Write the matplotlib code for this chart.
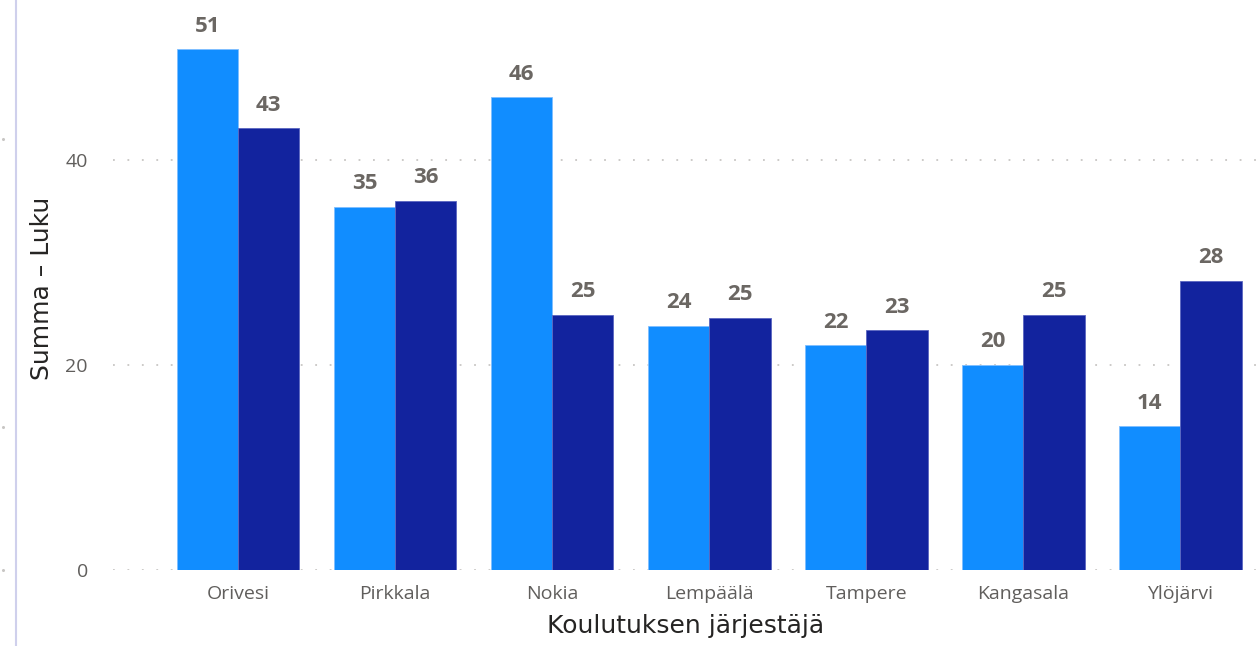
import matplotlib
matplotlib.use("Agg")
import matplotlib.pyplot as plt
from matplotlib.lines import Line2D
import numpy as np

# data
categories = ["Orivesi", "Pirkkala", "Nokia", "Lempäälä", "Tampere", "Kangasala", "Ylöjärvi"]
series_a = [50.8, 35.4, 46.1, 23.8, 21.9, 20.0, 14.0]
series_b = [43.1, 36.0, 24.9, 24.6, 23.4, 24.9, 28.2]
yticks = [0, 20, 40]

light = "#118DFF"
dark = "#12239E"
gray = "#605E5C"

W, H = 1259, 646
fig = plt.figure(figsize=(W / 100, H / 100), dpi=100)
# axes placed in pixel terms
ax = fig.add_axes([113 / W, 76 / H, (W - 113) / W, 564 / H])

x = np.arange(len(categories))
bw = 0.39
bars_a = ax.bar(x - bw / 2, series_a, bw, color=light, edgecolor="#7fbfff", linewidth=0.6, zorder=3)
bars_b = ax.bar(x + bw / 2, series_b, bw, color=dark, edgecolor="#5a66c0", linewidth=0.6, zorder=3)

for bars in (bars_a, bars_b):
    for b in bars:
        ax.annotate(f"{b.get_height():.0f}", (b.get_x() + b.get_width() / 2, b.get_height()),
                    xytext=(0, 9), textcoords="offset points", ha="center", va="bottom",
                    fontsize=16, fontweight="bold", color="#6b6763", family="Open Sans")

ax.set_xlim(-0.796, len(categories) - 0.5)
ax.set_ylim(0, 55)
ax.set_yticks(yticks)
ax.set_xticks(x)
ax.set_xticklabels(categories, fontsize=14, color=gray, family="Open Sans")
ax.set_yticklabels([str(t) for t in yticks], fontsize=14, color=gray, family="Open Sans")
ax.tick_params(length=0)
ax.tick_params(axis="x", pad=11)
ax.tick_params(axis="y", pad=18)

for t in yticks:
    ax.axhline(t, color="#c8c6c4", linestyle=(0, (1, 7)), linewidth=1.3, zorder=1)

for s in ax.spines.values():
    s.set_visible(False)

ax.set_xlabel("Koulutuksen järjestäjä", fontsize=18, color="#252423", family="DejaVu Sans", labelpad=8)
ax.set_ylabel("Summa – Luku", fontsize=18, color="#252423", family="DejaVu Sans", labelpad=8)

# faint frame line and small dots at the left edge
fig.add_artist(Line2D([15.5 / W, 15.5 / W], [0, 1], color="#cfd0ec", linewidth=1.5))
for py in (139, 427, 570):
    fig.add_artist(Line2D([3 / W], [1 - py / H], marker="o", markersize=1.2, color="#c8c6c4"))

fig.savefig("out.png", dpi=100)
